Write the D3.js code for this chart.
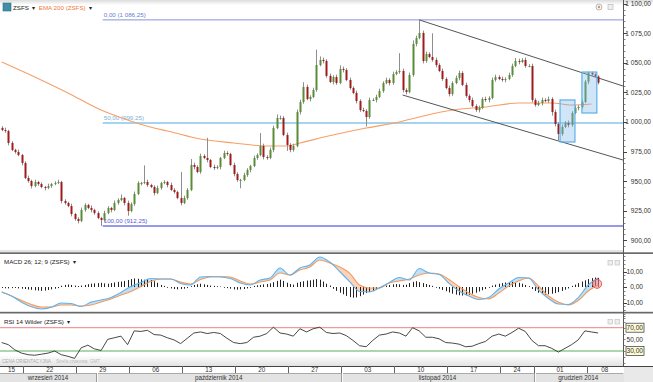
<!DOCTYPE html>
<html>
<head>
<meta charset="utf-8">
<script src="https://cdn.jsdelivr.net/npm/d3@7"></script>
<style>
  body { margin: 0; background: #fff; }
  svg { display: block; font-family: "Liberation Sans", Arial, sans-serif; }
</style>
</head>
<body>
<svg id="chart" width="653" height="382"></svg>
<script>
"use strict";

// ---- data ----
const firstOpen = 995.0;
const closes = [
  993.2,992.4,982.3,976.4,974.7,972.1,965.4,952.7,950.2,945.9,
  949.3,947.6,945.1,944.3,945.9,947.6,948.5,949.3,933.3,931.6,
  929.0,922.3,918.1,916.4,925.7,929.9,927.4,925.7,923.1,918.9,
  917.2,923.1,927.4,925.7,931.6,934.1,935.8,931.6,924.8,930.7,
  939.2,948.5,948.5,949.3,946.8,945.1,940.0,944.3,948.5,949.3,
  946.8,942.6,940.9,935.8,931.6,935.8,942.6,963.7,962.0,957.8,
  971.3,969.6,967.9,962.0,961.1,962.0,969.6,973.8,973.0,963.7,
  956.1,951.0,951.0,955.2,959.5,962.8,969.6,972.1,979.7,970.4,
  969.6,976.4,994.9,1003.4,1003.4,989.0,980.6,976.4,979.7,1008.4,
  1016.9,1029.6,1019.4,1021.1,1027.0,1048.1,1052.4,1051.5,1038.9,1033.8,
  1038.0,1032.9,1044.8,1043.9,1035.5,1028.7,1024.5,1017.7,1010.1,1009.3,
  1004.2,1018.6,1018.6,1021.1,1026.2,1032.9,1035.5,1032.9,1040.5,1042.2,
  1043.1,1027.0,1025.3,1039.7,1065.9,1070.9,1075.2,1051.5,1057.4,1054.9,
  1052.4,1048.1,1043.1,1036.3,1028.7,1023.6,1032.9,1037.2,1041.4,1031.3,
  1022.0,1018.6,1013.5,1010.1,1011.8,1019.4,1018.6,1020.3,1035.5,1038.0,
  1036.3,1035.5,1036.3,1039.7,1047.3,1051.5,1050.7,1052.4,1047.3,1047.3,
  1018.6,1014.4,1016.0,1018.6,1017.7,1019.4,1008.4,998.3,989.9,995.8,
  999.2,997.5,1007.6,1011.8,1012.7,1016.9,1034.0,1041.5,1040.2,1038.4,
  1033.2
];
// wick length above / below the body
const wickHi = [
  1.5,2,1,1.5,1,2,1,1.5,2,1, 2,1,1.5,1,2,1,1.5,2,1,1.5,
  1,2,1,1.5,2,1.5,1,2,1,1.5, 1,2,1.5,1,2,1.5,3,1,2,1.5,
  2,1.5,1,14,2,1,1.5,2,1,1.5, 1,2,1.5,1,22,2,1.5,5,2,1.5,
  2,1.5,17,1,2,1.5,1,2,1.5,1, 2,1.5,1,2,1.5,1,2,1.5,11,2,
  1.5,2,2,3,2,1.5,2,1.5,2,2, 2,4,2,1.5,2,13,3,2,1.5,2,
  1.5,2,3,2,1.5,2,1.5,2,1.5,2, 1.5,2,1.5,2,2,1.5,2,1.5,2,1.5,
  15,2,1.5,2,3,2,11,2,2,1.5, 20,2,1.5,2,1.5,2,1.5,2,2,1.5,
  2,1.5,2,1.5,2,1.5,2,1.5,2,2, 1.5,2,1.5,2,2,2.5,2,1.5,2,1.5,
  2,1.5,2,2,1.5,2,1.5,2,1.5,2, 1.5,2,1.5,2,1.5,2,1.5,1,1,1,
  1
];
const wickLo = [
  1,1.5,2,1,1.5,1,2,1,1.5,2, 1,1.5,1,2,1,1.5,1,1,2,1.5,
  1,2,1.5,2,1,1.5,1,2,1.5,1, 5,1.5,1,2,1,1.5,1,2,4,1,
  1.5,1,2,1,1.5,1,2,1,1.5,1, 2,1,1.5,1,2,1,1.5,1,2,1,
  1.5,1,2,1,1.5,1,2,1,1.5,1, 2,1.5,7,1,1.5,2,1,1.5,1,2,
  1.5,1,2,1,1.5,1,5,2,1.5,1, 2,1.5,1,2,1,1.5,1,2,1.5,1,
  2,1.5,1,2,1,1.5,1,2,1.5,1, 8,1.5,1,2,1,1.5,1,2,1.5,1,
  1.5,2,2,1,1.5,2,1,2,1.5,1, 1.5,2,1,1.5,1,2,1.5,1,2,1,
  1.5,2,1,1.5,2,1,1.5,2,1,1.5, 1,1.5,2,1,1.5,1,2,1,1.5,1,
  2,1.5,1,2,1,1.5,3,2,6,1.5, 1,2,1.5,1,2,1.5,1,2,1.5,1,
  1.5
];

// EMA 200, read at a few candle indices
const emaIdx = [0,10,20,30,38,46,50,60,70,80,86,90,100,110,120,126,136,146,156,166,172,178];
const emaVal = [1050.7,1038.0,1024.5,1010.1,1001.7,994.9,992.4,985.6,982.3,979.7,979.7,
  982.3,989.0,994.9,1000.0,1004.2,1010.1,1012.7,1016.0,1016.0,1014.4,1015.2];

// fibonacci levels and channel lines
const fibLevels = [0, 50, 100];
const fibPrices = [1086.25, 999.25, 912.25];
const fibStart = 30.5;
const channelUpper = [[126, 1086.25], [187.5, 1030.4]];
const channelLower = [[121, 1022.8], [187.5, 967.9]];
const boxes = [[168.5, 173, 1018.6, 983.1], [175.1, 179.6, 1042.2, 1007.6]];

// MACD 26;12;9 read every 3 candles
const macd = [-3.2,-5.8,-9.8,-12.8,-14.2,-13.0,-10.3,-10.6,-12.6,-9.7,
  -8.4,-6.8,-3.5,0.3,2.9,5.5,5.2,5.2,2.3,1.3,
  6.5,6.8,6.5,5.5,2.6,1.3,4.5,5.8,12.3,7.7,
  12.3,14.2,19.4,16.1,10.0,3.5,-2.9,-3.2,-0.6,2.9,
  6.1,4.5,11.9,9.0,8.1,2.3,-2.6,-5.8,-8.1,-6.8,
  -1.3,2.6,6.1,5.8,-1.9,-7.4,-11.0,-11.3,-6.8,1.3,
  5.8];
const signal = [-3.2,-5.8,-8.7,-11.3,-12.9,-12.9,-11.6,-11.6,-12.3,-11.6,
  -9.7,-7.7,-5.2,-2.9,0.3,3.5,5.2,5.2,3.2,1.9,
  4.8,6.5,6.8,6.5,3.9,1.9,3.2,4.5,9.0,7.7,
  11.0,12.9,17.4,15.5,12.9,9.0,1.3,-0.6,-0.6,2.6,
  3.9,5.2,7.7,9.0,8.4,4.8,0.3,-3.9,-6.8,-7.7,
  -3.9,0.6,3.9,5.8,0.6,-5.8,-9.7,-11.6,-8.7,-2.6,
  1.3];
// histogram, one bar per candle
const hist = [
  -0.3,-0.5,-0.6,-0.4,-0.3,-0.6,-0.8,-1.0,-1.3,-1.5,
  -1.8,-2.0,-2.2,-2.0,-1.6,-1.2,-0.8,-0.4,
  0.5,1.0,1.3,1.0,0.6,0.3,0.6,1.0,1.5,
  1.8,2.0,2.2,2.4,2.0,1.8,2.2,2.6,3.0,3.2,3.6,
  4.2,4.8,5.2,5.0,4.6,4.4,4.8,4.2,3.4,2.4,
  1.0,0.4,-0.2,-0.6,-1.0,-1.2,-1.0,
  -0.8,-0.4,0.2,
  1.0,1.4,1.8,1.4,1.0,0.6,0.4,0.2,0.0,
  -0.2,-0.4,-0.8,-1.2,-1.4,-1.2,-1.0,
  -0.6,-0.2,0.4,0.8,1.0,
  1.4,1.6,2.0,2.8,3.6,4.4,
  3.6,2.4,1.6,1.2,
  2.4,3.0,3.4,3.8,4.0,4.4,4.8,4.4,
  3.2,1.8,0.6,-0.8,-2.2,
  -3.4,-4.4,-5.4,-6.2,-6.6,-6.4,-5.6,-4.6,-3.6,
  -2.8,-2.0,-1.2,-0.4,0.2,0.6,
  1.0,1.4,1.6,1.4,1.0,1.2,
  2.2,3.0,3.4,2.8,2.2,1.6,
  1.0,0.4,-0.2,-0.8,-1.6,
  -2.4,-3.2,-4.0,-4.6,-5.0,-5.2,-5.0,-4.6,-4.0,-3.4,-2.6,-1.8,-1.0,
  -0.2,0.6,1.2,1.8,2.2,2.6,2.8,3.0,2.8,2.4,1.8,1.0,
  0.2,-1.0,-2.2,-3.4,-4.2,-4.6,-4.4,-4.0,-3.6,-3.0,-2.2,-1.4,-0.6,
  0.4,1.2,2.2,3.2,4.0,4.8,5.4,5.8,5.6
];
// RSI 14 Wilder read every 2 candles
const rsi = [44.5,40.9,31.8,26.4,23.6,22.7,24.5,26.4,30.0,23.6,
  20.9,17.3,35.5,40.0,33.6,30.9,50.0,52.7,55.5,40.9,
  64.5,63.6,65.5,58.2,57.3,52.7,49.1,42.7,51.8,60.9,
  62.7,60.0,61.8,60.0,51.8,44.5,42.7,44.5,53.6,55.5,
  60.0,70.9,60.9,59.1,55.5,68.2,62.7,68.2,70.9,61.8,
  60.0,60.9,56.4,48.2,39.1,37.3,48.2,57.3,59.1,62.7,
  60.9,55.5,70.0,64.5,53.6,53.6,50.9,44.5,43.6,41.8,
  37.3,38.2,42.7,46.4,55.5,59.1,55.5,61.8,69.1,63.6,
  48.2,39.1,39.1,34.5,28.2,34.5,40.9,49.1,64.5,62.7,
  60.9];

// date axis
const weekStarts = [-9,7,23,39,55,71,87,103,119,135,151,161,177];
const weekLabels = ["15","22","29","06","13","20","27","03","10","17","24","01","08"];
const monthStarts = [-40, 29, 103, 161];
const monthLabels = ["wrzesień 2014","październik 2014","listopad 2014","grudzień 2014"];
const lastSlot = 188;

const mainTicks = [900,925,950,975,1000,1025,1050,1075,1100];
const macdTicks = [-10, 0, 10];
const rsiTicks = [30, 50, 70];

// ---- layout ----
const plotRight = 623;
const mainP = { top: 0, bottom: 252 };
const macdP = { top: 254, bottom: 312 };
const rsiP = { top: 313.5, bottom: 366 };

const svg = d3.select("#chart");
const defs = svg.append("defs");

const x = d3.scaleLinear().domain([-0.5, lastSlot - 0.5]).range([0, plotRight]);
const yMain = d3.scaleLinear().domain([900, 1100]).range([240.4, 3.6]);
const yMacd = d3.scaleLinear().domain([-10, 10]).range([302.5, 271.5]);
const yRsi = d3.scaleLinear().domain([30, 70]).range([351, 327.7]);

const fmt = d3.formatLocale({ decimal: ",", thousands: " ", grouping: [3], currency: ["", ""], minus: "-" }).format(",.2f");

function panelClip(id, p) {
  defs.append("clipPath").attr("id", id)
    .append("rect").attr("x", 0).attr("y", p.top).attr("width", plotRight).attr("height", p.bottom - p.top);
}
panelClip("clipMain", mainP);
panelClip("clipMacd", macdP);
panelClip("clipRsi", rsiP);

// legend text followed by a small dropdown arrow
function legend(xx, yy, label, color) {
  const t = svg.append("text").attr("x", xx).attr("y", yy).attr("font-size", 6.2).attr("fill", color).text(label);
  const w = t.node().getComputedTextLength();
  svg.append("text").attr("x", xx + w + 3).attr("y", yy).attr("font-size", 5.5).attr("fill", "#222").text("▾");
  return xx + w + 10;
}

// top strip
const topGrad = defs.append("linearGradient").attr("id", "topGrad").attr("x1", 0).attr("x2", 0).attr("y1", 0).attr("y2", 1);
topGrad.append("stop").attr("offset", 0).attr("stop-color", "#dcdcdc");
topGrad.append("stop").attr("offset", 1).attr("stop-color", "#ffffff");
svg.append("rect").attr("x", 0).attr("y", 0).attr("width", 653).attr("height", 5).attr("fill", "url(#topGrad)");

// ---- main panel ----
const gMain = svg.append("g").attr("clip-path", "url(#clipMain)");

fibLevels.forEach(function (lv, k) {
  const col = ["#8893d8", "#a6d4f0", "#7474e6"][k];
  const w = [1, 2, 1.5][k];
  const yy = yMain(fibPrices[k]);
  gMain.append("line")
    .attr("x1", x(fibStart)).attr("x2", plotRight)
    .attr("y1", yy).attr("y2", yy)
    .attr("stroke", col).attr("stroke-width", w);
  gMain.append("text")
    .attr("x", x(fibStart) + 1).attr("y", yy - 2.5)
    .attr("font-size", 6.2).attr("fill", ["#6d7ad0", "#78b3de", "#5a5ae0"][k])
    .text(fmt(lv) + " (" + fmt(fibPrices[k]) + ")");
});

// EMA 200
const emaPts = emaIdx.map((i, k) => ({ i: i, v: emaVal[k] }));
gMain.append("path")
  .datum(emaPts)
  .attr("fill", "none").attr("stroke", "#f5a068").attr("stroke-width", 1.1)
  .attr("d", d3.line().x(d => x(d.i)).y(d => yMain(d.v)).curve(d3.curveMonotoneX));

// channel
[channelUpper, channelLower].forEach(function (c) {
  gMain.append("line")
    .attr("x1", x(c[0][0])).attr("y1", yMain(c[0][1]))
    .attr("x2", x(c[1][0])).attr("y2", yMain(c[1][1]))
    .attr("stroke", "#555").attr("stroke-width", 1);
});

// candles
const candles = closes.map(function (c, i) {
  const o = i ? closes[i - 1] : firstOpen;
  return { i: i, o: o, c: c, h: Math.max(o, c) + wickHi[i], l: Math.min(o, c) - wickLo[i] };
});
const cg = gMain.append("g");
cg.selectAll("line.wick").data(candles).enter().append("line")
  .attr("class", "wick")
  .attr("x1", d => Math.round(x(d.i)) + 0.5).attr("x2", d => Math.round(x(d.i)) + 0.5)
  .attr("y1", d => yMain(d.h)).attr("y2", d => yMain(d.l))
  .attr("stroke", "#8e8e8e").attr("stroke-width", 1);
cg.selectAll("rect.body").data(candles).enter().append("rect")
  .attr("class", "body")
  .attr("x", d => Math.round(x(d.i)) - 0.5)
  .attr("width", 2)
  .attr("y", d => yMain(Math.max(d.o, d.c)))
  .attr("height", d => Math.max(1, Math.abs(yMain(d.o) - yMain(d.c))))
  .attr("fill", d => (d.c >= d.o ? "#5a8c36" : "#a01c1c"));

// highlight boxes
boxes.forEach(function (b) {
  gMain.append("rect")
    .attr("x", x(b[0])).attr("width", x(b[1]) - x(b[0]))
    .attr("y", yMain(b[2])).attr("height", yMain(b[3]) - yMain(b[2]))
    .attr("fill", "rgba(120,180,235,0.35)").attr("stroke", "#5cb0e6").attr("stroke-width", 1.2);
});

// legend
svg.append("rect").attr("x", 3).attr("y", 3).attr("width", 8).attr("height", 8).attr("fill", "#3f8fa6").attr("stroke", "#2a6f84").attr("stroke-width", 0.6);
const nx = legend(13, 9.5, "ZSFS", "#222");
legend(nx, 9.5, "EMA 200 (ZSFS)", "#f07a3a");
svg.append("circle").attr("cx", 599).attr("cy", 7).attr("r", 3).attr("fill", "#f4f4f4").attr("stroke", "#aaa").attr("stroke-width", 0.8);
svg.append("circle").attr("cx", 599).attr("cy", 7).attr("r", 1.2).attr("fill", "#e8905a");
svg.append("rect").attr("x", 608).attr("y", 4.5).attr("width", 5).attr("height", 5).attr("fill", "#eee").attr("stroke", "#bbb").attr("stroke-width", 0.7);

// ---- MACD panel ----
const gMacd = svg.append("g").attr("clip-path", "url(#clipMacd)");
const mPts = macd.map((v, k) => ({ i: k * 3, m: v, s: signal[k] }));
const curve = d3.curveMonotoneX;
defs.append("clipPath").attr("id", "clipAbove").append("path")
  .attr("d", d3.area().x(d => x(d.i)).y0(macdP.top).y1(d => yMacd(d.s)).curve(curve)(mPts));
defs.append("clipPath").attr("id", "clipBelow").append("path")
  .attr("d", d3.area().x(d => x(d.i)).y0(d => yMacd(d.s)).y1(macdP.bottom).curve(curve)(mPts));
const between = d3.area().x(d => x(d.i)).y0(d => yMacd(d.m)).y1(d => yMacd(d.s)).curve(curve);
gMacd.append("g").attr("clip-path", "url(#clipAbove)").append("path")
  .attr("d", between(mPts)).attr("fill", "#bfe0f6");
gMacd.append("g").attr("clip-path", "url(#clipBelow)").append("path")
  .attr("d", between(mPts)).attr("fill", "#fbd2bc");

gMacd.selectAll("line.hist").data(hist).enter().append("line")
  .attr("class", "hist")
  .attr("x1", (d, i) => Math.round(x(i)) + 0.5).attr("x2", (d, i) => Math.round(x(i)) + 0.5)
  .attr("y1", yMacd(0)).attr("y2", d => yMacd(d) + (d >= 0 ? -0.5 : 0.5))
  .attr("stroke", "#222").attr("stroke-width", 1);

gMacd.append("path").datum(mPts)
  .attr("fill", "none").attr("stroke", "#f59a5c").attr("stroke-width", 1.1)
  .attr("d", d3.line().x(d => x(d.i)).y(d => yMacd(d.s)).curve(curve));
gMacd.append("path").datum(mPts)
  .attr("fill", "none").attr("stroke", "#66b2e6").attr("stroke-width", 1.1)
  .attr("d", d3.line().x(d => x(d.i)).y(d => yMacd(d.m)).curve(curve));

const lastM = mPts[mPts.length - 1];
gMacd.append("circle")
  .attr("cx", x(lastM.i) - 1).attr("cy", yMacd((lastM.m + lastM.s) / 2 - 1.5)).attr("r", 4.5)
  .attr("fill", "rgba(255,140,140,0.55)").attr("stroke", "#e65a5a").attr("stroke-width", 1);

legend(4, 264, "MACD 26; 12; 9 (ZSFS)", "#222");

// ---- RSI panel ----
const gRsi = svg.append("g").attr("clip-path", "url(#clipRsi)");
const bandGrad = defs.append("linearGradient").attr("id", "bandGrad").attr("x1", 0).attr("x2", 0).attr("y1", 0).attr("y2", 1);
bandGrad.append("stop").attr("offset", 0).attr("stop-color", "#ffffff");
bandGrad.append("stop").attr("offset", 1).attr("stop-color", "#e2e2e2");
gRsi.append("rect").attr("x", 0).attr("y", 355).attr("width", plotRight).attr("height", 11).attr("fill", "url(#bandGrad)");

gRsi.append("line").attr("x1", 0).attr("x2", plotRight).attr("y1", yRsi(70)).attr("y2", yRsi(70))
  .attr("stroke", "#f29a9a").attr("stroke-width", 1.3);
gRsi.append("line").attr("x1", 0).attr("x2", plotRight).attr("y1", yRsi(30)).attr("y2", yRsi(30))
  .attr("stroke", "#8fcb8f").attr("stroke-width", 1.3);
gRsi.append("path").datum(rsi)
  .attr("fill", "none").attr("stroke", "#333").attr("stroke-width", 0.9)
  .attr("d", d3.line().x((d, k) => x(k * 2)).y(d => yRsi(d)));

legend(4, 324, "RSI 14 Wilder (ZSFS)", "#222");
const cena = svg.append("text").attr("x", 2).attr("y", 363).attr("font-size", 4.6).attr("fill", "#aaa").text("CENA ORIENTACYJNA");
svg.append("text").attr("x", 2 + cena.node().getComputedTextLength() + 5).attr("y", 363)
  .attr("font-size", 4.6).attr("fill", "#bbb").text("Strefa czasowa: GMT");

[[263, macdP], [322, rsiP]].forEach(function (p) {
  [608, 615].forEach(function (xx) {
    svg.append("rect").attr("x", xx).attr("y", p[0] - 2.5).attr("width", 4.5).attr("height", 4.5)
      .attr("fill", "#eee").attr("stroke", "#c4c4c4").attr("stroke-width", 0.7);
  });
});

// ---- panel borders ----
svg.append("line").attr("x1", 0).attr("x2", 653).attr("y1", 251).attr("y2", 251).attr("stroke", "#c8c8c8");
svg.append("rect").attr("x", 0).attr("y", 252.3).attr("width", 653).attr("height", 1.7).attr("fill", "#6a6a6a");
svg.append("rect").attr("x", 0).attr("y", 311.8).attr("width", 653).attr("height", 1.7).attr("fill", "#6a6a6a");

// ---- right axes ----
svg.append("line").attr("x1", plotRight + 0.5).attr("x2", plotRight + 0.5).attr("y1", 0).attr("y2", 382)
  .attr("stroke", "#555").attr("stroke-width", 1);

function rightAxis(scale, ticks, minorStep, lo, hi) {
  const g = svg.append("g");
  d3.range(lo, hi + 0.001, minorStep).forEach(function (v) {
    g.append("line").attr("x1", plotRight).attr("x2", plotRight + 2.5)
      .attr("y1", Math.round(scale(v)) + 0.5).attr("y2", Math.round(scale(v)) + 0.5)
      .attr("stroke", "#666").attr("stroke-width", 0.8);
  });
  ticks.forEach(function (v) {
    g.append("line").attr("x1", plotRight).attr("x2", plotRight + 4)
      .attr("y1", Math.round(scale(v)) + 0.5).attr("y2", Math.round(scale(v)) + 0.5)
      .attr("stroke", "#444").attr("stroke-width", 1);
  });
  return g;
}
const gm = rightAxis(yMain, mainTicks, 5, 895, 1105);
mainTicks.forEach(function (v) {
  gm.append("text").attr("x", 651).attr("y", yMain(v) + 2.3).attr("text-anchor", "end")
    .attr("font-size", 6.6).attr("fill", "#333").text(fmt(v));
});
const gmd = rightAxis(yMacd, macdTicks, 2.5, -20, 20);
macdTicks.forEach(function (v) {
  gmd.append("text").attr("x", 643).attr("y", yMacd(v) + 2.3).attr("text-anchor", "end")
    .attr("font-size", 6.6).attr("fill", "#333").text(fmt(v));
});
const gr = rightAxis(yRsi, [], 10, 0, 100);
rsiTicks.forEach(function (v) {
  if (v !== 50) {
    gr.append("rect").attr("x", 626).attr("y", yRsi(v) - 4.5).attr("width", 18).attr("height", 9)
      .attr("fill", "#fdfbd8").attr("stroke", "#333").attr("stroke-width", 0.7);
  }
  gr.append("text").attr("x", 643).attr("y", yRsi(v) + 2.3).attr("text-anchor", "end")
    .attr("font-size", 6.6).attr("fill", "#333").text(fmt(v));
});
// hide axis ticks that fall outside their panels
svg.append("rect").attr("x", plotRight + 1).attr("y", 248).attr("width", 30).attr("height", 4).attr("fill", "#fff");
svg.append("rect").attr("x", plotRight + 1).attr("y", 254).attr("width", 30).attr("height", 2).attr("fill", "#fff");

// ---- date axis ----
const dateTop = 366, dateMid = 373, dateBottom = 382;
svg.append("rect").attr("x", 0).attr("y", dateTop).attr("width", 653).attr("height", dateMid - dateTop).attr("fill", "#fff");
svg.append("rect").attr("x", 0).attr("y", dateMid).attr("width", 653).attr("height", dateBottom - dateMid).attr("fill", "#e3e3e3");
svg.append("rect").attr("x", plotRight + 1).attr("y", dateTop).attr("width", 30).attr("height", dateBottom - dateTop).attr("fill", "#e9e9e9");
svg.append("line").attr("x1", 0).attr("x2", 653).attr("y1", dateTop + 0.5).attr("y2", dateTop + 0.5).attr("stroke", "#444");
svg.append("line").attr("x1", 0).attr("x2", plotRight).attr("y1", dateMid + 0.5).attr("y2", dateMid + 0.5).attr("stroke", "#aaa");

weekStarts.forEach(function (s, k) {
  const next = k + 1 < weekStarts.length ? weekStarts[k + 1] : lastSlot;
  const x0 = Math.max(0, x(s - 0.5));
  const x1 = Math.min(plotRight, x(next - 0.5));
  if (s > 0) {
    svg.append("line").attr("x1", Math.round(x0) + 0.5).attr("x2", Math.round(x0) + 0.5)
      .attr("y1", dateTop).attr("y2", dateMid).attr("stroke", "#666");
  }
  svg.append("text").attr("x", (x0 + x1) / 2).attr("y", dateMid - 1.5).attr("text-anchor", "middle")
    .attr("font-size", 6.3).attr("fill", "#333").text(weekLabels[k]);
});
monthStarts.forEach(function (s, k) {
  const next = k + 1 < monthStarts.length ? monthStarts[k + 1] : lastSlot;
  const x0 = Math.max(0, x(s - 0.5));
  const x1 = Math.min(plotRight, x(next - 0.5));
  if (s > 0) {
    svg.append("line").attr("x1", Math.round(x0) + 0.5).attr("x2", Math.round(x0) + 0.5)
      .attr("y1", dateMid).attr("y2", dateBottom).attr("stroke", "#999");
    svg.append("line").attr("x1", Math.round(x0) + 1.5).attr("x2", Math.round(x0) + 1.5)
      .attr("y1", dateMid).attr("y2", dateBottom).attr("stroke", "#fafafa");
  }
  svg.append("text").attr("x", (x0 + x1) / 2).attr("y", dateBottom - 2.3).attr("text-anchor", "middle")
    .attr("font-size", 6.3).attr("fill", "#333").text(monthLabels[k]);
});
</script>
</body>
</html>
